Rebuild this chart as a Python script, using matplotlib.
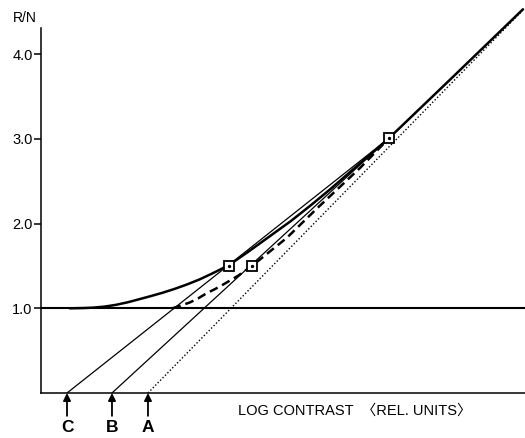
import matplotlib
matplotlib.use("Agg")
import matplotlib.pyplot as plt

plt.rcParams['font.family'] = ['Liberation Sans', 'Noto Sans CJK JP', 'DejaVu Sans']

# Reference level (noise floor)
noise_level = 1.0

# x-intercepts of the three straight lines C, B, A (log contrast)
line_names = ['C', 'B', 'A']
intercepts = [0.307, 0.838, 1.263]

# Marked points (squares)
square_x = [2.22, 2.49, 4.11]
square_y = [1.50, 1.50, 3.01]

# Dotted line from A to the upper right
dotted_x = [1.263, 5.69]
dotted_y = [0.0, 4.52]

# Thick solid response curve
curve_x = [0.34, 0.50, 0.62, 0.75, 0.88, 1.02, 1.17, 1.30, 1.44, 1.58, 1.72, 1.87, 2.03, 2.22,
           2.45, 2.70, 2.95, 3.19, 3.42, 3.65, 3.88, 4.11, 4.83, 5.69]
curve_y = [1.00, 1.003, 1.008, 1.02, 1.04, 1.07, 1.11, 1.145, 1.185, 1.23, 1.28, 1.34, 1.415, 1.51,
           1.67, 1.85, 2.03, 2.22, 2.41, 2.61, 2.81, 3.01, 3.70, 4.53]

# Thick dashed response curve
dashed_x = [1.55, 1.66, 1.76, 1.86, 1.96, 2.06, 2.15, 2.32, 2.49, 2.90, 3.27, 3.77, 4.11]
dashed_y = [1.00, 1.035, 1.07, 1.12, 1.18, 1.23, 1.28, 1.38, 1.50, 1.83, 2.19, 2.66, 3.01]

ytick_vals = [1.0, 2.0, 3.0, 4.0]
ytick_labels = ['1.0', '2.0', '3.0', '4.0']

fig = plt.figure(figsize=(5.25, 4.38), dpi=100)
ax = fig.add_axes([41 / 525, 45 / 438, 484 / 525, 393 / 438])
ax.set_xlim(0, 484 / 84.7)
ax.set_ylim(0, 393 / 84.7)

# Horizontal reference line
ax.axhline(noise_level, color='black', lw=1.5, zorder=2)

# Straight lines C and B ending at the upper square
for x0 in intercepts[:2]:
    ax.plot([x0, square_x[2]], [0, square_y[2]], color='black', lw=0.9, zorder=3)

# Dotted line A
ax.plot(dotted_x, dotted_y, color='black', lw=1.0, ls=(0, (1, 1.5)), zorder=3)

# Curves
ax.plot(curve_x, curve_y, color='black', lw=1.8, zorder=4,
        solid_capstyle='round', solid_joinstyle='round')
ax.plot(dashed_x, dashed_y, color='black', lw=1.8, ls=(0, (3.5, 2)), zorder=4)

# Squares with a centre dot
ax.plot(square_x, square_y, ls='none', marker='s', ms=6.5, mfc='white', mec='black', mew=1.3, zorder=6)
ax.plot(square_x, square_y, ls='none', marker='o', ms=1.4, color='black', zorder=7)

# Arrows and letters under the axis
for name, x0 in zip(line_names, intercepts):
    ax.annotate('', xy=(x0, 0), xytext=(x0, -0.27), annotation_clip=False,
                arrowprops=dict(arrowstyle='-|>', color='black', lw=1.3,
                                mutation_scale=11, shrinkA=0, shrinkB=0))
    ax.text(x0, -0.41, name, ha='center', va='center', fontsize=12.5,
            fontweight='bold', clip_on=False)

# Axes styling
for side in ['top', 'right']:
    ax.spines[side].set_visible(False)
ax.spines['left'].set_bounds(0, 4.31)
ax.spines['left'].set_linewidth(1.1)
ax.spines['bottom'].set_linewidth(1.1)
ax.set_xticks([])
ax.set_yticks(ytick_vals)
ax.set_yticklabels(ytick_labels)
ax.tick_params(axis='y', direction='out', length=5, width=1.1, pad=1, labelsize=10.5)

fig.text(25 / 525, 1 - 18 / 438, 'R/N', ha='center', va='center', fontsize=10)
fig.text(355 / 525, 1 - 411 / 438, 'LOG CONTRAST  \u3008REL. UNITS\u3009',
         ha='center', va='center', fontsize=10.5)

fig.savefig('out.png', dpi=100)
